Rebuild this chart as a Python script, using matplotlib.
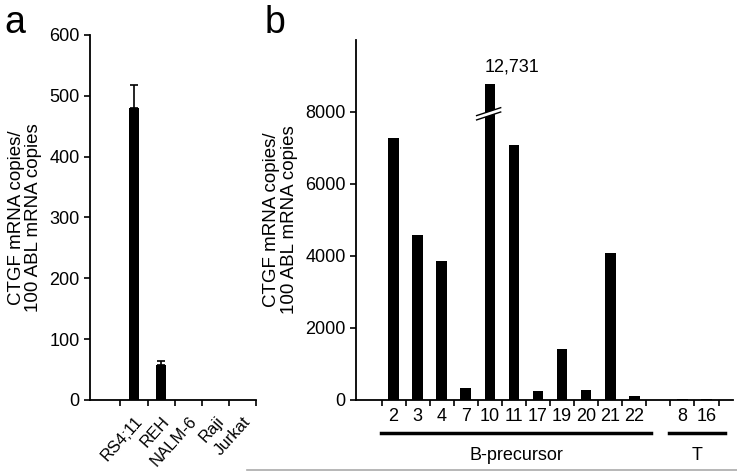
import numpy as np
import matplotlib
matplotlib.use('Agg')
import matplotlib.pyplot as plt
from matplotlib.patches import Polygon

plt.rcParams['font.family'] = ['Liberation Sans', 'DejaVu Sans']

# panel a: cell lines
lines_a = ['RS4;11', 'REH', 'NALM-6', 'Raji', 'Jurkat']
vals_a = [480, 57, 0, 0, 0]
err_a = [37, 7, 0, 0, 0]

# panel b: patients
b_labels = ['2', '3', '4', '7', '10', '11', '17', '19', '20', '21', '22']
b_vals = [7280, 4570, 3860, 330, 8770, 7070, 260, 1405, 270, 4070, 100]
t_labels = ['8', '16']
t_vals = [25, 25]
broken_label = '12,731'

fig = plt.figure(figsize=(7.37, 4.72), dpi=100)
ylab = 'CTGF mRNA copies/\n100 ABL mRNA copies'

# ---- panel a
ax1 = fig.add_axes([90/737, 72/472, 166/737, 365/472])
xa = np.arange(1, len(lines_a) + 1)
ax1.bar(xa, vals_a, width=0.37, color='black')
ax1.errorbar(xa[:2], vals_a[:2], yerr=[[0, 0], err_a[:2]], fmt='none',
             ecolor='black', elinewidth=1.2, capsize=3, capthick=1.2)
ax1.set_xlim(-0.62, 5.5)
ax1.set_ylim(0, 600)
ax1.set_yticks([0, 100, 200, 300, 400, 500, 600])
ax1.set_xticks(xa)
ax1.set_xticklabels(lines_a, rotation=48, ha='right', rotation_mode='anchor')
ax1.set_xticks(np.arange(0.5, 6, 1), minor=True)
ax1.tick_params(axis='x', which='major', length=0, pad=10, labelsize=12)
ax1.tick_params(axis='x', which='minor', length=4, width=1.2, direction='out')
ax1.tick_params(axis='y', length=4, width=1.2, labelsize=13)
ax1.set_ylabel(ylab, fontsize=13.5, linespacing=1.05, labelpad=5)
for s in ['top', 'right']:
    ax1.spines[s].set_visible(False)
for s in ['left', 'bottom']:
    ax1.spines[s].set_linewidth(1.3)

# ---- panel b
ax2 = fig.add_axes([356/737, 72/472, 377/737, 360/472])
xb = np.arange(len(b_labels))
xt = np.arange(len(b_labels) + 1, len(b_labels) + 1 + len(t_labels))
ax2.bar(xb, b_vals, width=0.44, color='black')
ax2.bar(xt, t_vals, width=0.44, color='black')
ax2.set_xlim(-1.56, 14.1)
ax2.set_ylim(0, 10000)
ax2.set_yticks([0, 2000, 4000, 6000, 8000])
ax2.set_xticks(np.concatenate([xb, xt]))
ax2.set_xticklabels(b_labels + t_labels)
ax2.set_xticks(np.arange(-0.5, 14, 1), minor=True)
ax2.tick_params(axis='x', which='major', length=0, pad=6, labelsize=13)
ax2.tick_params(axis='x', which='minor', length=4, width=1.2, direction='out')
ax2.tick_params(axis='y', length=4, width=1.2, labelsize=13)
ax2.set_ylabel(ylab, fontsize=13.5, linespacing=1.05, labelpad=5)
for s in ['top', 'right']:
    ax2.spines[s].set_visible(False)
for s in ['left', 'bottom']:
    ax2.spines[s].set_linewidth(1.3)

# axis break on bar 10
c = xb[4]
x0, x1 = c - 0.55, c + 0.45
ax2.add_patch(Polygon([[x0, 7780], [x1, 8000], [x1, 8120], [x0, 7900]],
                      closed=True, facecolor='white', edgecolor='none', zorder=3))
ax2.plot([x0, x1], [7780, 8000], color='black', lw=1, zorder=4)
ax2.plot([x0, x1], [7900, 8120], color='black', lw=1, zorder=4)
ax2.text(c + 0.9, 9000, broken_label, ha='center', va='bottom', fontsize=13)

# group lines
trans = ax2.get_xaxis_transform()
ax2.plot([-0.53, 10.7], [-0.092, -0.092], color='black', lw=2.5,
         transform=trans, clip_on=False)
ax2.plot([11.46, 13.75], [-0.092, -0.092], color='black', lw=2.5,
         transform=trans, clip_on=False)
ax2.text(5.1, -0.13, 'B-precursor', transform=trans, ha='center', va='top', fontsize=13)
ax2.text(12.6, -0.13, 'T', transform=trans, ha='center', va='top', fontsize=13)

# panel letters
fig.text(4/737, 1 - 33/472, 'a', fontsize=27)
fig.text(265/737, 1 - 33/472, 'b', fontsize=27)

# thin grey rule at the bottom
fig.add_artist(plt.Line2D([247/737, 1], [2/472, 2/472], color='#aaaaaa', lw=1.2))

fig.savefig('out.png', dpi=100)
